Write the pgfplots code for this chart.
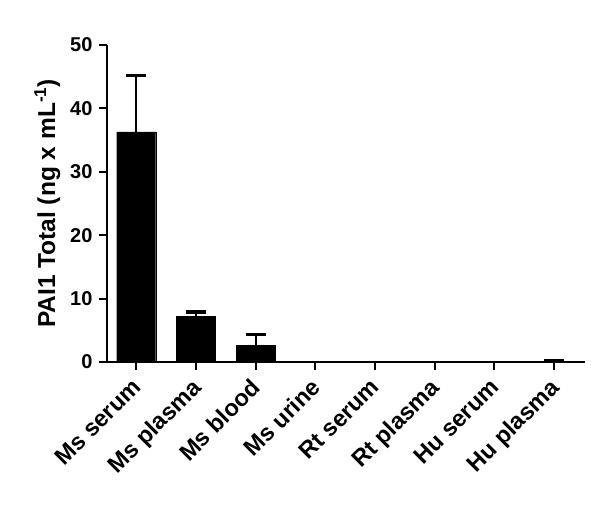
\documentclass[border=0pt]{standalone}
\usepackage{pgfplots}
\pgfplotsset{compat=1.18}
\usepackage{fontspec}
\setmainfont{Liberation Sans}
\begin{document}
\begin{tikzpicture}[x=1pt,y=1pt]
\useasboundingbox (0,0) rectangle (600,506);
\begin{axis}[
  at={(107pt,144pt)}, anchor=south west,
  scale only axis, width=478pt, height=317pt,
  xmin=-0.49, xmax=7.52, ymin=0, ymax=50,
  axis lines=left,
  axis line style={line width=2pt, -},
  xtick={0,...,7},
  xticklabels={Ms serum,Ms plasma,Ms blood,Ms urine,Rt serum,Rt plasma,Hu serum,Hu plasma},
  x tick label style={rotate=45, anchor=north east, inner sep=1pt, xshift=-8pt, font=\fontsize{23.5}{26}\selectfont\bfseries},
  ytick={0,10,...,50},
  y tick label style={font=\fontsize{20}{22}\selectfont\bfseries, xshift=-3pt},
  /pgf/number format/assume math mode=true,
  tick style={line width=2pt, black},
  tick align=outside, major tick length=8pt,
  ylabel={PAI1 Total (ng x mL\textsuperscript{-1})},
  ylabel style={font=\fontsize{24.5}{27}\selectfont\bfseries, yshift=3pt},
  ybar, bar width=39pt,
]
\addplot[fill=black, draw=black, bar shift=0pt] coordinates {
  (0,36.3) (1,7.15) (2,2.65) (3,0) (4,0) (5,0) (6,0) (7,0.12)
};
\addplot[draw=none, fill=none, bar shift=0pt,
  error bars/.cd, y dir=plus, y explicit,
  error bar style={line width=2pt, black},
  error mark options={rotate=90, mark size=10pt, line width=3.5pt, black}]
  coordinates {
  (0,36.3) +- (0,8.9)
  (1,7.15) +- (0,0.75)
  (2,2.65) +- (0,1.65)
  (7,0.12) +- (0,0.05)
};
\end{axis}
\end{tikzpicture}
\end{document}
